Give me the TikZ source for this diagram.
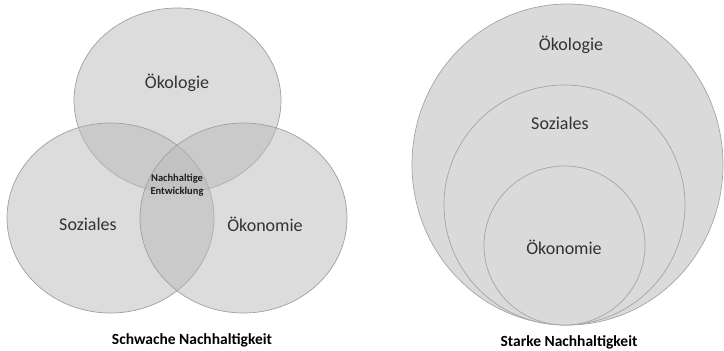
\documentclass[tikz,border=0pt]{standalone}
\usepackage{fontspec}
\setmainfont{Carlito}
\begin{document}
\begin{tikzpicture}[x=1pt,y=-1pt,
  venn/.style={fill={rgb,255:red,185;green,185;blue,185}, fill opacity=0.5, draw={rgb,255:red,160;green,160;blue,160}, line width=0.7pt},
  nest/.style={fill={rgb,255:red,218;green,218;blue,218}, draw={rgb,255:red,165;green,165;blue,165}, line width=0.7pt},
  lbl/.style={text={rgb,255:red,50;green,50;blue,50}, font=\fontsize{18}{20}\selectfont, inner sep=0pt},
  ttl/.style={text=black, font=\bfseries\fontsize{15.5}{18}\selectfont, inner sep=0pt}]
\path[use as bounding box] (0,0) rectangle (724,351);
% weak sustainability
\draw[venn] (177.5,100.5) ellipse [x radius=103.5, y radius=92.5];
\draw[venn] (110.5,218) ellipse [x radius=103.5, y radius=95];
\draw[venn] (243.5,218) ellipse [x radius=103.5, y radius=95];
\node[lbl] (oek1) at (177,83) {Ökologie};
\node[lbl] (soz1) at (88,224) {Soziales};
\node[lbl] (eco1) at (265,224) {Ökonomie};
\node[inner sep=0pt, align=center, text={rgb,255:red,30;green,30;blue,30}, font=\bfseries\fontsize{10.5}{13}\selectfont] (nh) at (177,185) {Nachhaltige\\Entwicklung};
\node[ttl] (schw) at (192,340) {Schwache Nachhaltigkeit};
% strong sustainability
\draw[nest] (567.5,164.5) ellipse [x radius=155.5, y radius=160.5];
\draw[nest] (564.5,205) ellipse [x radius=120.5, y radius=120];
\draw[nest] (564.5,245.5) ellipse [x radius=80.5, y radius=79.5];
\node[lbl] (oek2) at (571,45) {Ökologie};
\node[lbl] (soz2) at (560,123) {Soziales};
\node[lbl] (eco2) at (564,247) {Ökonomie};
\node[ttl] (stark) at (569,342) {Starke Nachhaltigkeit};
\end{tikzpicture}
\end{document}
